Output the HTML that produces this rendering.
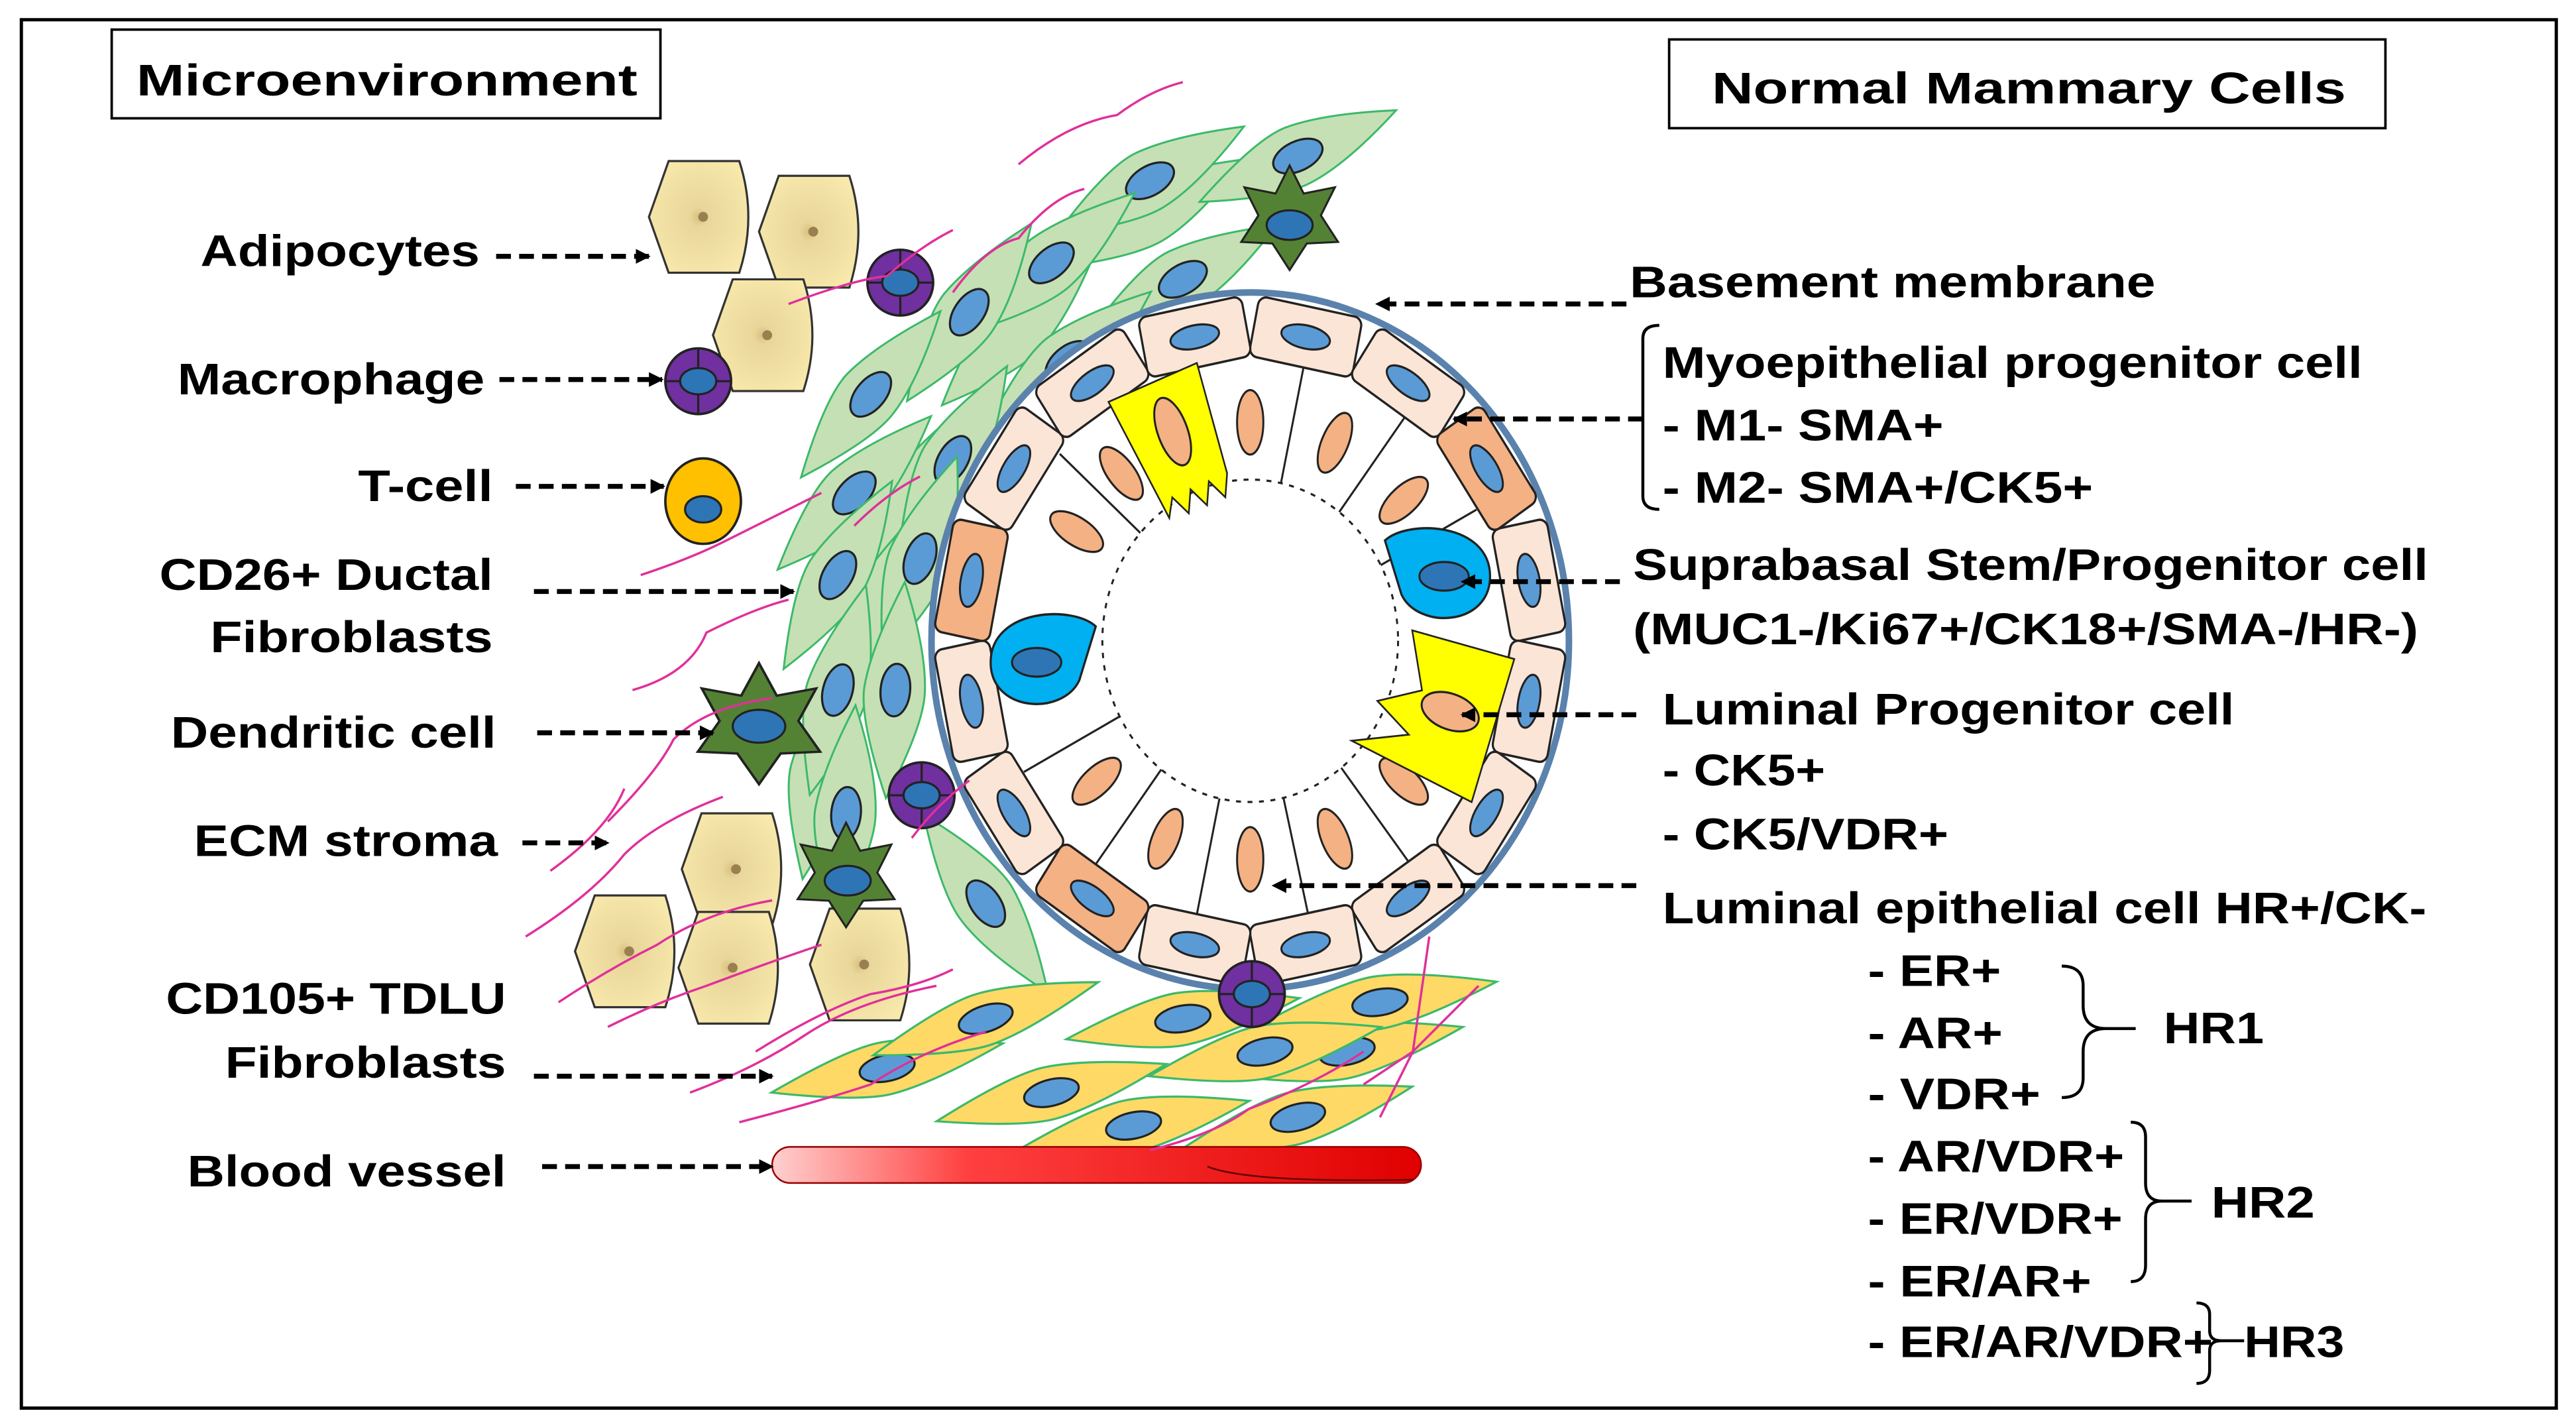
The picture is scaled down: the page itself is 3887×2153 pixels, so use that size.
<!DOCTYPE html>
<html><head><meta charset="utf-8"><style>
html,body{margin:0;padding:0;background:#fff}
svg{display:block}
text{font-family:"Liberation Sans",Arial,sans-serif;font-weight:bold;font-size:27px;fill:#000}
</style></head><body>
<svg width="3887" height="2153" viewBox="0 0 1568 868.5" xmlns="http://www.w3.org/2000/svg">
<defs>
<radialGradient id="adi" cx="50%" cy="50%" r="60%"><stop offset="0" stop-color="#d8c080"/><stop offset="0.15" stop-color="#e9d69a"/><stop offset="1" stop-color="#f8e9ac"/></radialGradient>
<linearGradient id="bv" x1="0" y1="0" x2="1" y2="0"><stop offset="0" stop-color="#ffd0d0"/><stop offset="0.3" stop-color="#ff4040"/><stop offset="1" stop-color="#e00000"/></linearGradient>
<marker id="ah" markerWidth="9" markerHeight="9" refX="8" refY="4.5" orient="auto" markerUnits="userSpaceOnUse"><path d="M0,0 L9,4.5 L0,9 Z" fill="#000"/></marker>
<g id="adip"><path d="M0,34 L12,0 L55,0 Q66,34 55,68 L12,68 Z" fill="url(#adi)" stroke="#333" stroke-width="1.3"/><circle cx="33" cy="34" r="3" fill="#9a8050"/></g>
<g id="mac"><circle r="20" fill="#7030a0" stroke="#222" stroke-width="1.5"/><line x1="0" y1="-20" x2="0" y2="20" stroke="#222" stroke-width="1.3"/><line x1="-20" y1="0" x2="20" y2="0" stroke="#222" stroke-width="1.3"/><ellipse rx="11" ry="8" fill="#2e75b6" stroke="#222" stroke-width="1.3"/></g>
<g id="gsp"><path d="M-66,0 Q-20,-20 0,-19 Q25,-17 66,0 Q25,17 0,18 Q-20,19 -66,0 Z" fill="#c5e0b4" stroke="#3cb96a" stroke-width="1.2"/><ellipse rx="16" ry="9" fill="#5b9bd5" stroke="#222" stroke-width="1.3"/></g>
<g id="gs"><path d="M-66,0 Q-20,-20 0,-19 Q25,-17 66,0 Q25,17 0,18 Q-20,19 -66,0 Z" fill="#c5e0b4" stroke="#3cb96a" stroke-width="1.2"/></g>
<g id="ysp"><path d="M-72,0 Q-20,-17 0,-16 Q25,-15 72,0 Q25,15 0,16 Q-20,17 -72,0 Z" fill="#ffd966" stroke="#3cb96a" stroke-width="1.3"/><ellipse rx="17" ry="8" fill="#5b9bd5" stroke="#222" stroke-width="1.3"/></g>
<g id="myo"><rect x="-32" y="-190" width="64" height="34" rx="5" stroke="#222" stroke-width="1.3"/><ellipse cx="0" cy="-173" rx="15" ry="6.5" fill="#5b9bd5" stroke="#222" stroke-width="1.2"/></g>
<g id="lum"><line x1="0" y1="-156" x2="0" y2="-90" stroke="#222" stroke-width="1.2" transform="rotate(12)"/><ellipse cx="0" cy="-122" rx="8" ry="18" fill="#f4b183" stroke="#222" stroke-width="1.2"/></g>
<path id="star" d="M0,-34 L9,-16 L29,-20 L20,-2 L31,15 L11,16 L0,33 L-11,16 L-31,15 L-20,-2 L-29,-20 L-9,-16 Z"/>
<path id="tear" d="M36,-20 C22,-32 -28,-30 -28,0 C-28,28 16,30 26,10 Z"/>
</defs>
<rect x="13" y="12" width="1543" height="845" fill="#fff" stroke="#000" stroke-width="2"/>
<rect x="68" y="18" width="334" height="54" fill="#fff" stroke="#000" stroke-width="1.5"/>
<text x="83" y="58" textLength="305" lengthAdjust="spacingAndGlyphs">Microenvironment</text>
<rect x="1016" y="24" width="436" height="54" fill="#fff" stroke="#000" stroke-width="1.5"/>
<text x="1042" y="63" textLength="386" lengthAdjust="spacingAndGlyphs">Normal Mammary Cells</text>

<!-- green fibroblasts -->
<g>
<use href="#gs" transform="translate(700,130) rotate(-30)"/>
<use href="#gs" transform="translate(620,200) rotate(-45)"/>
<use href="#gs" transform="translate(560,300) rotate(-60)"/>
<use href="#gs" transform="translate(530,380) rotate(-70)"/>
<use href="#gs" transform="translate(500,470) rotate(-80)"/>
<use href="#gsp" transform="translate(700,110) rotate(-30)"/>
<use href="#gsp" transform="translate(790,95) rotate(-25)"/>
<use href="#gsp" transform="translate(640,160) rotate(-40)"/>
<use href="#gsp" transform="translate(720,170) rotate(-30)"/>
<use href="#gsp" transform="translate(590,190) rotate(-55)"/>
<use href="#gsp" transform="translate(650,220) rotate(-40)"/>
<use href="#gsp" transform="translate(530,240) rotate(-50)"/>
<use href="#gsp" transform="translate(580,280) rotate(-60)"/>
<use href="#gsp" transform="translate(520,300) rotate(-45)"/>
<use href="#gsp" transform="translate(510,350) rotate(-60)"/>
<use href="#gsp" transform="translate(560,340) rotate(-70)"/>
<use href="#gsp" transform="translate(510,420) rotate(-75)"/>
<use href="#gsp" transform="translate(545,420) rotate(-85)"/>
<use href="#gsp" transform="translate(515,495) rotate(-85)"/>
<use href="#gsp" transform="translate(600,550) rotate(55)"/>
</g>
<!-- yellow fibroblasts -->
<g>
<use href="#ysp" transform="translate(540,650) rotate(-12)"/>
<use href="#ysp" transform="translate(600,620) rotate(-18)"/>
<use href="#ysp" transform="translate(720,620) rotate(-10)"/>
<use href="#ysp" transform="translate(690,685) rotate(-12)"/>
<use href="#ysp" transform="translate(790,680) rotate(-15)"/>
<use href="#ysp" transform="translate(820,640) rotate(-12)"/>
<use href="#ysp" transform="translate(840,610) rotate(-10)"/>
<use href="#ysp" transform="translate(770,640) rotate(-12)"/>
<use href="#ysp" transform="translate(640,665) rotate(-14)"/>
</g>
<!-- blood vessel -->
<rect x="470" y="698" width="395" height="22" rx="11" fill="url(#bv)" stroke="#900" stroke-width="1"/>
<path d="M735,710 Q760,720 860,718" fill="none" stroke="#600" stroke-width="1"/>

<!-- adipocytes -->
<use href="#adip" transform="translate(395,98)"/>
<use href="#adip" transform="translate(462,107)"/>
<use href="#adip" transform="translate(434,170)"/>
<use href="#adip" transform="translate(415,495)"/>
<use href="#adip" transform="translate(350,545)"/>
<use href="#adip" transform="translate(413,555)"/>
<use href="#adip" transform="translate(493,553)"/>

<!-- duct -->
<ellipse cx="761" cy="390" rx="194" ry="212" fill="#fff" stroke="#5a82ad" stroke-width="4"/>
<g transform="translate(761,390) scale(1,1.09)">
<g fill="#fbe5d6">
<use href="#myo" transform="rotate(11.25)"/><use href="#myo" transform="rotate(33.75)"/>
<use href="#myo" transform="rotate(78.75)"/><use href="#myo" transform="rotate(101.25)"/>
<use href="#myo" transform="rotate(123.75)"/><use href="#myo" transform="rotate(146.25)"/>
<use href="#myo" transform="rotate(168.75)"/><use href="#myo" transform="rotate(191.25)"/>
<use href="#myo" transform="rotate(236.25)"/><use href="#myo" transform="rotate(258.75)"/>
<use href="#myo" transform="rotate(303.75)"/><use href="#myo" transform="rotate(326.25)"/>
<use href="#myo" transform="rotate(348.75)"/>
</g>
<g fill="#f4b183">
<use href="#myo" transform="rotate(56.25)"/><use href="#myo" transform="rotate(213.75)"/><use href="#myo" transform="rotate(281.25)"/>
</g>
<!-- luminal -->
<use href="#lum" transform="rotate(0)"/><use href="#lum" transform="rotate(25)"/><use href="#lum" transform="rotate(50)"/>
<use href="#lum" transform="rotate(130)"/><use href="#lum" transform="rotate(155)"/><use href="#lum" transform="rotate(180)"/>
<use href="#lum" transform="rotate(205)"/><use href="#lum" transform="rotate(230)"/><use href="#lum" transform="rotate(300)"/>
<use href="#lum" transform="rotate(320)"/>
<circle r="90" fill="none" stroke="#222" stroke-width="1.2" stroke-dasharray="3 4"/>
<!-- yellow top -->
<g transform="rotate(-22)"><path d="M-30,-156 L28,-156 L22,-92 L16,-80 L10,-92 L4,-80 L-2,-92 L-8,-80 L-14,-92 L-20,-82 Z" fill="#ffff00" stroke="#222" stroke-width="1"/><ellipse cx="0" cy="-126" rx="9" ry="20" fill="#f4b183" stroke="#222" stroke-width="1.2"/></g>
<!-- yellow right -->
<g transform="rotate(108)"><path d="M-40,-156 L44,-156 L34,-76 L20,-108 L8,-84 L-6,-108 L-36,-92 Z" fill="#ffff00" stroke="#222" stroke-width="1"/><ellipse cx="0" cy="-128" rx="10" ry="18" fill="#f4b183" stroke="#222" stroke-width="1.2"/></g>
<!-- blue cells -->
<g transform="translate(-130,12)"><use href="#tear" fill="#00b0f0" stroke="#222" stroke-width="1.3"/><ellipse cx="0" cy="0" rx="15" ry="8" fill="#2e75b6" stroke="#222" stroke-width="1.2"/></g>
<g transform="translate(118,-36) scale(-1,1)"><use href="#tear" fill="#00b0f0" stroke="#222" stroke-width="1.3"/><ellipse cx="0" cy="0" rx="15" ry="8" fill="#2e75b6" stroke="#222" stroke-width="1.2"/></g>
</g>

<!-- immune cells -->
<use href="#mac" transform="translate(548,172)"/>
<use href="#mac" transform="translate(425,232)"/>
<use href="#mac" transform="translate(561,484)"/>
<use href="#mac" transform="translate(762,605)"/>
<ellipse cx="428" cy="305" rx="23" ry="26" fill="#ffc000" stroke="#222" stroke-width="1.5"/>
<ellipse cx="428" cy="310" rx="11" ry="8" fill="#2e75b6" stroke="#222" stroke-width="1.3"/>
<g fill="#548235" stroke="#222" stroke-width="1.3">
<use href="#star" transform="translate(785,133) scale(0.95)"/>
<use href="#star" transform="translate(462,441) scale(1.2,1.1)"/>
<use href="#star" transform="translate(515,533) scale(0.95)"/>
</g>
<ellipse cx="785" cy="137" rx="14" ry="9" fill="#2e75b6" stroke="#222" stroke-width="1.3"/>
<ellipse cx="462" cy="442" rx="16" ry="10" fill="#2e75b6" stroke="#222" stroke-width="1.3"/>
<ellipse cx="516" cy="536" rx="14" ry="9" fill="#2e75b6" stroke="#222" stroke-width="1.3"/>

<!-- pink fibers -->
<g fill="none" stroke="#e0309a" stroke-width="1.4">
<path d="M580,178 Q600,150 620,145 Q640,120 660,115"/>
<path d="M620,100 Q650,75 680,70 Q700,55 720,50"/>
<path d="M480,185 Q520,170 540,168 Q560,150 580,140"/>
<path d="M390,350 Q420,340 440,330 Q470,315 500,300"/>
<path d="M385,420 Q420,410 430,385 Q460,370 480,365"/>
<path d="M370,500 Q400,470 410,450 Q430,430 470,425"/>
<path d="M320,570 Q360,545 380,520 Q400,500 440,485"/>
<path d="M335,530 Q370,505 380,480"/>
<path d="M340,610 Q370,590 400,575 Q430,555 470,548"/>
<path d="M370,625 Q400,610 430,600 Q470,585 500,575"/>
<path d="M460,640 Q500,615 530,605 Q560,600 580,590"/>
<path d="M420,665 Q460,650 490,630 Q520,610 570,600"/>
<path d="M450,683 Q500,670 530,660 Q560,640 600,628"/>
<path d="M700,700 Q740,690 760,675 Q800,660 830,640"/>
<path d="M870,570 L860,640 Q850,660 840,680"/>
<path d="M830,660 L860,640 Q880,620 900,600"/>
<path d="M555,510 Q570,490 590,475"/>
<path d="M520,320 Q540,300 560,290"/>
</g>

<!-- left labels -->
<text x="122" y="162" textLength="170" lengthAdjust="spacingAndGlyphs">Adipocytes</text>
<text x="108" y="240" textLength="187" lengthAdjust="spacingAndGlyphs">Macrophage</text>
<text x="218" y="305" textLength="82" lengthAdjust="spacingAndGlyphs">T-cell</text>
<text x="97" y="359" textLength="203" lengthAdjust="spacingAndGlyphs">CD26+ Ductal</text>
<text x="128" y="397" textLength="172" lengthAdjust="spacingAndGlyphs">Fibroblasts</text>
<text x="104" y="455" textLength="198" lengthAdjust="spacingAndGlyphs">Dendritic cell</text>
<text x="118" y="521" textLength="185" lengthAdjust="spacingAndGlyphs">ECM stroma</text>
<text x="101" y="617" textLength="207" lengthAdjust="spacingAndGlyphs">CD105+ TDLU</text>
<text x="137" y="656" textLength="171" lengthAdjust="spacingAndGlyphs">Fibroblasts</text>
<text x="114" y="722" textLength="194" lengthAdjust="spacingAndGlyphs">Blood vessel</text>

<g stroke="#000" stroke-width="3" stroke-dasharray="9 5" fill="none" marker-end="url(#ah)">
<line x1="302" y1="156" x2="395" y2="156"/>
<line x1="304" y1="231" x2="403" y2="231"/>
<line x1="314" y1="296" x2="404" y2="296"/>
<line x1="325" y1="360" x2="483" y2="360"/>
<line x1="327" y1="446" x2="434" y2="446"/>
<line x1="318" y1="513" x2="370" y2="513"/>
<line x1="325" y1="655" x2="470" y2="655"/>
<line x1="330" y1="710" x2="470" y2="710"/>
<line x1="990" y1="185" x2="838" y2="185"/>
<line x1="1000" y1="255" x2="885" y2="255"/>
<line x1="986" y1="354" x2="890" y2="354"/>
<line x1="996" y1="435" x2="890" y2="435"/>
<line x1="996" y1="539" x2="775" y2="539"/>
</g>

<!-- right labels -->
<text x="992" y="181" textLength="320" lengthAdjust="spacingAndGlyphs">Basement membrane</text>
<path d="M1010,198 Q1000,198 1000,206 L1000,302 Q1000,310 1010,310" fill="none" stroke="#000" stroke-width="1.8"/>
<text x="1012" y="230" textLength="426" lengthAdjust="spacingAndGlyphs">Myoepithelial progenitor cell</text>
<text x="1012" y="268" textLength="171" lengthAdjust="spacingAndGlyphs">- M1- SMA+</text>
<text x="1012" y="306" textLength="262" lengthAdjust="spacingAndGlyphs">- M2- SMA+/CK5+</text>
<text x="994" y="353" textLength="484" lengthAdjust="spacingAndGlyphs">Suprabasal Stem/Progenitor cell</text>
<text x="994" y="392" textLength="478" lengthAdjust="spacingAndGlyphs">(MUC1-/Ki67+/CK18+/SMA-/HR-)</text>
<text x="1012" y="441" textLength="348" lengthAdjust="spacingAndGlyphs">Luminal Progenitor cell</text>
<text x="1012" y="478" textLength="99" lengthAdjust="spacingAndGlyphs">- CK5+</text>
<text x="1012" y="517" textLength="174" lengthAdjust="spacingAndGlyphs">- CK5/VDR+</text>
<text x="1012" y="562" textLength="465" lengthAdjust="spacingAndGlyphs">Luminal epithelial cell HR+/CK-</text>
<text x="1137" y="600" textLength="81" lengthAdjust="spacingAndGlyphs">- ER+</text>
<text x="1137" y="638" textLength="82" lengthAdjust="spacingAndGlyphs">- AR+</text>
<text x="1137" y="675" textLength="105" lengthAdjust="spacingAndGlyphs">- VDR+</text>
<text x="1137" y="713" textLength="156" lengthAdjust="spacingAndGlyphs">- AR/VDR+</text>
<text x="1137" y="751" textLength="155" lengthAdjust="spacingAndGlyphs">- ER/VDR+</text>
<text x="1137" y="789" textLength="136" lengthAdjust="spacingAndGlyphs">- ER/AR+</text>
<text x="1137" y="826" textLength="210" lengthAdjust="spacingAndGlyphs">- ER/AR/VDR+</text>
<text x="1317" y="635" textLength="61" lengthAdjust="spacingAndGlyphs">HR1</text>
<text x="1346" y="741" textLength="63" lengthAdjust="spacingAndGlyphs">HR2</text>
<text x="1366" y="826" textLength="61" lengthAdjust="spacingAndGlyphs">HR3</text>
<g fill="none" stroke="#000" stroke-width="1.8">
<path d="M1255,588 Q1268,588 1268,600 L1268,612 Q1268,626 1282,626 L1300,626 M1282,626 Q1268,626 1268,640 L1268,656 Q1268,668 1255,668"/>
<path d="M1297,683 Q1306,683 1306,692 L1306,720 Q1306,731 1316,731 L1334,731 M1316,731 Q1306,731 1306,742 L1306,770 Q1306,780 1297,780"/>
<path d="M1337,793 Q1345,793 1345,800 L1345,810 Q1345,816 1352,816 L1366,816 M1352,816 Q1345,816 1345,822 L1345,834 Q1345,842 1337,842"/>
</g>
</svg>
</body></html>
